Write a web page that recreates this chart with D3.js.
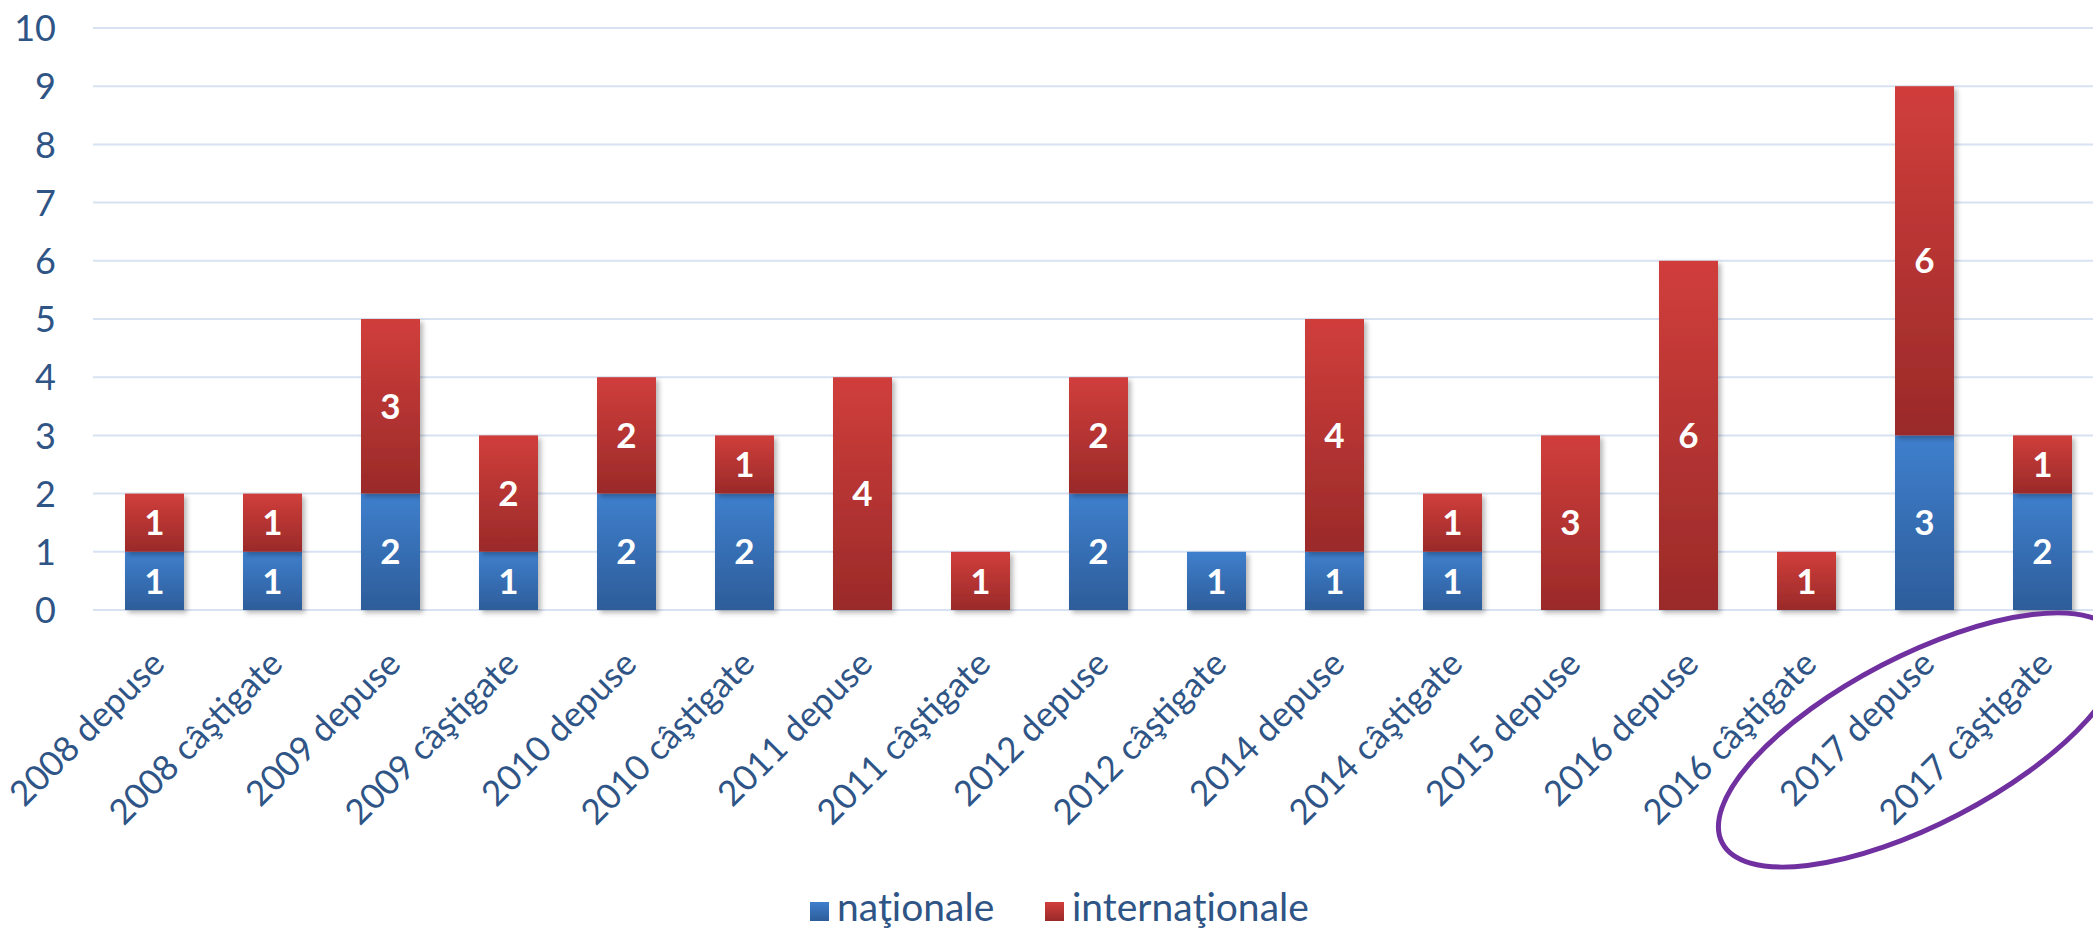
<!DOCTYPE html>
<html>
<head>
<meta charset="utf-8">
<script src="https://cdn.jsdelivr.net/npm/d3@7/dist/d3.min.js"></script>
<style>
  html, body { margin: 0; padding: 0; background: #fff; }
  svg { display: block; }
</style>
</head>
<body>
<svg id="chart" width="2093" height="933"></svg>
<script>
const categories = [
  "2008 depuse", "2008 câştigate", "2009 depuse", "2009 câştigate",
  "2010 depuse", "2010 câştigate", "2011 depuse", "2011 câştigate",
  "2012 depuse", "2012 câştigate", "2014 depuse", "2014 câştigate",
  "2015 depuse", "2016 depuse", "2016 câştigate", "2017 depuse", "2017 câştigate"
];
const nationale      = [1, 1, 2, 1, 2, 2, 0, 0, 2, 1, 1, 1, 0, 0, 0, 3, 2];
const internationale = [1, 1, 3, 2, 2, 1, 4, 1, 2, 0, 4, 1, 3, 6, 1, 6, 1];
const seriesNames = ["naţionale", "internaţionale"];
const yTicks = [0, 1, 2, 3, 4, 5, 6, 7, 8, 9, 10];

const W = 2093, H = 933;
const svg = d3.select("#chart");
const textColor = "#2F5486";
const font = "Lato, 'Open Sans', sans-serif";

const defs = svg.append("defs");
function grad(id, top, bottom) {
  const g = defs.append("linearGradient").attr("id", id)
    .attr("x1", 0).attr("y1", 0).attr("x2", 0).attr("y2", 1);
  g.append("stop").attr("offset", "0%").attr("stop-color", top);
  g.append("stop").attr("offset", "100%").attr("stop-color", bottom);
}
grad("gBlue", "#3F7FCD", "#2D5D9A");
grad("gRed", "#D03E3B", "#9A2A29");
const f = defs.append("filter").attr("id", "shadow")
  .attr("x", "-20%").attr("y", "-20%").attr("width", "150%").attr("height", "150%");
f.append("feDropShadow").attr("dx", 3).attr("dy", 3).attr("stdDeviation", 2.5)
  .attr("flood-color", "#000").attr("flood-opacity", 0.28);

const x = d3.scaleBand().domain(categories).range([95.5, 2101.5])
  .paddingInner(0.5).paddingOuter(0.25);
const y = d3.scaleLinear().domain([0, 10]).range([610, 28]);

// gridlines
svg.append("g").selectAll("line").data(yTicks).join("line")
  .attr("x1", 93).attr("x2", W)
  .attr("y1", d => y(d)).attr("y2", d => y(d))
  .attr("stroke", "#D7E2F2").attr("stroke-width", 2);

// y axis labels
const yAxis = d3.axisLeft(y).tickValues(yTicks).tickSize(0).tickPadding(0);
const yg = svg.append("g").attr("transform", "translate(56,0)").call(yAxis);
yg.select(".domain").remove();
yg.selectAll("text").attr("font-family", font).attr("font-size", 36)
  .attr("fill", textColor).attr("dy", "0.35em");

// stacked data
const rows = categories.map((c, i) => ({ cat: c, nationale: nationale[i], internationale: internationale[i] }));
const stack = d3.stack().keys(["nationale", "internationale"]);
const stacked = stack(rows);
const fills = { nationale: "url(#gBlue)", internationale: "url(#gRed)" };

const gBars = svg.append("g");
stacked.forEach(layer => {
  const key = layer.key;
  const segs = layer.filter(d => d[1] - d[0] > 0);
  gBars.append("g").selectAll("rect").data(segs).join("rect")
    .attr("x", d => x(d.data.cat))
    .attr("width", x.bandwidth())
    .attr("y", d => y(d[1]))
    .attr("height", d => y(d[0]) - y(d[1]))
    .attr("fill", fills[key])
    .attr("filter", "url(#shadow)");
});
// segment labels
stacked.forEach(layer => {
  const segs = layer.filter(d => d[1] - d[0] > 0);
  gBars.append("g").selectAll("text").data(segs).join("text")
    .attr("x", d => x(d.data.cat) + x.bandwidth() / 2)
    .attr("y", d => (y(d[0]) + y(d[1])) / 2)
    .attr("dy", "0.36em")
    .attr("text-anchor", "middle")
    .attr("font-family", font).attr("font-weight", "bold").attr("font-size", 35)
    .attr("fill", "#fff")
    .text(d => d[1] - d[0]);
});

// x labels
svg.append("g").selectAll("text").data(categories).join("text")
  .attr("transform", d => `translate(${x(d) + x.bandwidth() / 2 + 12},666) rotate(-45)`)
  .attr("text-anchor", "end")
  .attr("font-family", font).attr("font-size", 35)
  .attr("fill", textColor)
  .text(d => d);

// legend
const legendColors = ["url(#gBlue)", "url(#gRed)"];
const legendX = [810, 1045];
const lg = svg.append("g");
seriesNames.forEach((name, i) => {
  lg.append("rect").attr("x", legendX[i]).attr("y", 902).attr("width", 19).attr("height", 19)
    .attr("fill", legendColors[i]);
  lg.append("text").attr("x", legendX[i] + 27).attr("y", 921)
    .attr("font-family", font).attr("font-size", 39).attr("fill", textColor)
    .text(name);
});

// highlight ellipse around 2017
svg.append("ellipse")
  .attr("cx", 1920).attr("cy", 740).attr("rx", 223).attr("ry", 84)
  .attr("transform", "rotate(-27.5,1920,740)")
  .attr("fill", "none").attr("stroke", "#7030A0").attr("stroke-width", 5);
</script>
</body>
</html>
